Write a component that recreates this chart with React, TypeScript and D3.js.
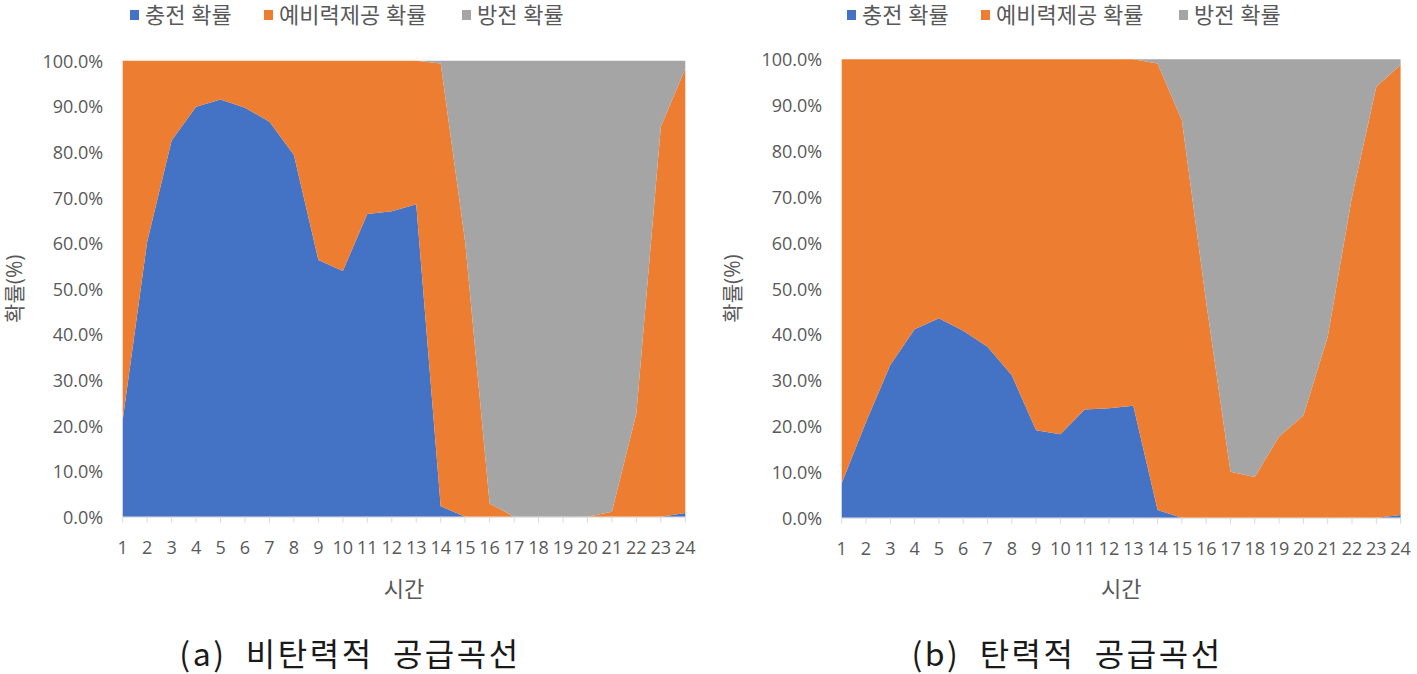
import React from 'react';
import * as d3 from 'd3';

// hours on the x axis
const hours = [1, 2, 3, 4, 5, 6, 7, 8, 9, 10, 11, 12, 13, 14, 15, 16, 17, 18, 19, 20, 21, 22, 23, 24];
const yTicks = [0, 10, 20, 30, 40, 50, 60, 70, 80, 90, 100];

const seriesNames = ['충전 확률', '예비력제공 확률', '방전 확률'];
const seriesColors = ['#4472C4', '#ED7D31', '#A5A5A5'];

// (a) 비탄력적 공급곡선 — values in %
const chargeA = [21.2, 60.3, 82.5, 89.9, 91.5, 89.7, 86.6, 79.3, 56.3, 53.9, 66.4, 67.0, 68.5, 2.3, 0, 0, 0, 0, 0, 0, 0, 0, 0, 0.8];
const reserveA = [78.8, 39.7, 17.5, 10.1, 8.5, 10.3, 13.4, 20.7, 43.7, 46.1, 33.6, 33.0, 31.5, 97.1, 60.3, 2.9, 0, 0, 0, 0, 1.1, 22.7, 85.5, 97.5];
const dischargeA = [0, 0, 0, 0, 0, 0, 0, 0, 0, 0, 0, 0, 0, 0.6, 39.7, 97.1, 100, 100, 100, 100, 98.9, 77.3, 14.5, 1.7];

// (b) 탄력적 공급곡선 — values in %
const chargeB = [7.5, 20.9, 33.3, 41.1, 43.5, 40.8, 37.3, 31.1, 19.1, 18.2, 23.6, 23.9, 24.4, 1.7, 0, 0, 0, 0, 0, 0, 0, 0, 0, 0.6];
const reserveB = [92.5, 79.1, 66.7, 58.9, 56.5, 59.2, 62.7, 68.9, 80.9, 81.8, 76.4, 76.1, 75.6, 97.4, 86.7, 47.0, 10.0, 8.9, 17.7, 22.3, 39.5, 70.0, 94.0, 98.2];
const dischargeB = [0, 0, 0, 0, 0, 0, 0, 0, 0, 0, 0, 0, 0, 0.9, 13.3, 53.0, 90.0, 91.1, 82.3, 77.7, 60.5, 30.0, 6.0, 1.2];

const FONT = "'Open Sans', 'Noto Sans CJK KR', sans-serif";
const TEXT = '#595959';
const AXIS = '#d9d9d9';

type Box = { left: number; right: number; top: number; bottom: number };

type PanelProps = {
  charge: number[];
  reserve: number[];
  discharge: number[];
  plot: Box;
  legendX: number;
  yTitleX: number;
  caption: string;
  captionX: number;
};

const legendOffsets = [0, 134, 332];

function Panel({ charge, reserve, discharge, plot, legendX, yTitleX, caption, captionX }: PanelProps) {
  const x = d3.scaleLinear().domain([1, 24]).range([plot.left, plot.right]);
  const y = d3.scaleLinear().domain([0, 100]).range([plot.bottom, plot.top]);

  const rows = hours.map((h, i) => ({ hour: h, c: charge[i], r: reserve[i], d: discharge[i] }));
  const stacked = d3.stack<any>().keys(['c', 'r', 'd'])(rows);
  const area = d3
    .area<any>()
    .x(p => x(p.data.hour))
    .y0(p => y(p[0]))
    .y1(p => y(p[1]));

  const midX = (plot.left + plot.right) / 2;
  const midY = (plot.top + plot.bottom) / 2;

  return (
    <g fontFamily={FONT}>
      {/* legend */}
      {seriesNames.map((name, i) => (
        <g key={name} transform={`translate(${legendX + legendOffsets[i]},0)`}>
          <rect x={0} y={10} width={9} height={10} fill={seriesColors[i]} />
          <text x={15} y={14} fontSize={22} fill={TEXT} dominantBaseline="central">
            {name}
          </text>
        </g>
      ))}

      {/* stacked areas */}
      {stacked.map((s, i) => (
        <path key={s.key} d={area(s) ?? ''} fill={seriesColors[i]} />
      ))}

      {/* y axis labels */}
      {yTicks.map(t => (
        <text
          key={t}
          x={plot.left - 19.5}
          y={y(t)}
          textAnchor="end"
          dominantBaseline="central"
          fontSize={18}
          fill={TEXT}
        >
          {t.toFixed(1)}%
        </text>
      ))}

      {/* x axis */}
      <line x1={plot.left} x2={plot.right} y1={plot.bottom + 0.5} y2={plot.bottom + 0.5} stroke={AXIS} />
      {hours.map(h => (
        <g key={h}>
          <line x1={x(h)} x2={x(h)} y1={plot.bottom} y2={plot.bottom + 6} stroke={AXIS} />
          <text
            x={x(h)}
            y={plot.bottom + 30}
            textAnchor="middle"
            dominantBaseline="central"
            fontSize={18}
            fill={TEXT}
          >
            {h}
          </text>
        </g>
      ))}

      {/* axis titles */}
      <text x={midX} y={588} textAnchor="middle" dominantBaseline="central" fontSize={22} fill={TEXT}>
        시간
      </text>
      <text
        transform={`translate(${yTitleX},${midY}) rotate(-90)`}
        textAnchor="middle"
        dominantBaseline="central"
        fontSize={21}
        fill={TEXT}
      >
        확률(%)
      </text>

      {/* caption */}
      <text
        x={captionX}
        y={652}
        textAnchor="middle"
        dominantBaseline="central"
        fontSize={32}
        letterSpacing={2.5}
        fill="#1a1a1a"
        fontFamily="'Noto Sans CJK KR', sans-serif"
        style={{ whiteSpace: 'pre' }}
      >
        {caption}
      </text>
    </g>
  );
}

export default function App() {
  return (
    <svg
      width={1417}
      height={674}
      style={{ position: 'absolute', left: 0, top: 0, background: '#fff' }}
    >
      <Panel
        charge={chargeA}
        reserve={reserveA}
        discharge={dischargeA}
        plot={{ left: 122.7, right: 685.3, top: 60.7, bottom: 516.7 }}
        legendX={130}
        yTitleX={14}
        caption="(a)  비탄력적  공급곡선"
        captionX={350}
      />
      <Panel
        charge={chargeB}
        reserve={reserveB}
        discharge={dischargeB}
        plot={{ left: 841.7, right: 1400.6, top: 59.3, bottom: 517.7 }}
        legendX={847}
        yTitleX={732}
        caption="(b)  탄력적  공급곡선"
        captionX={1067}
      />
    </svg>
  );
}
